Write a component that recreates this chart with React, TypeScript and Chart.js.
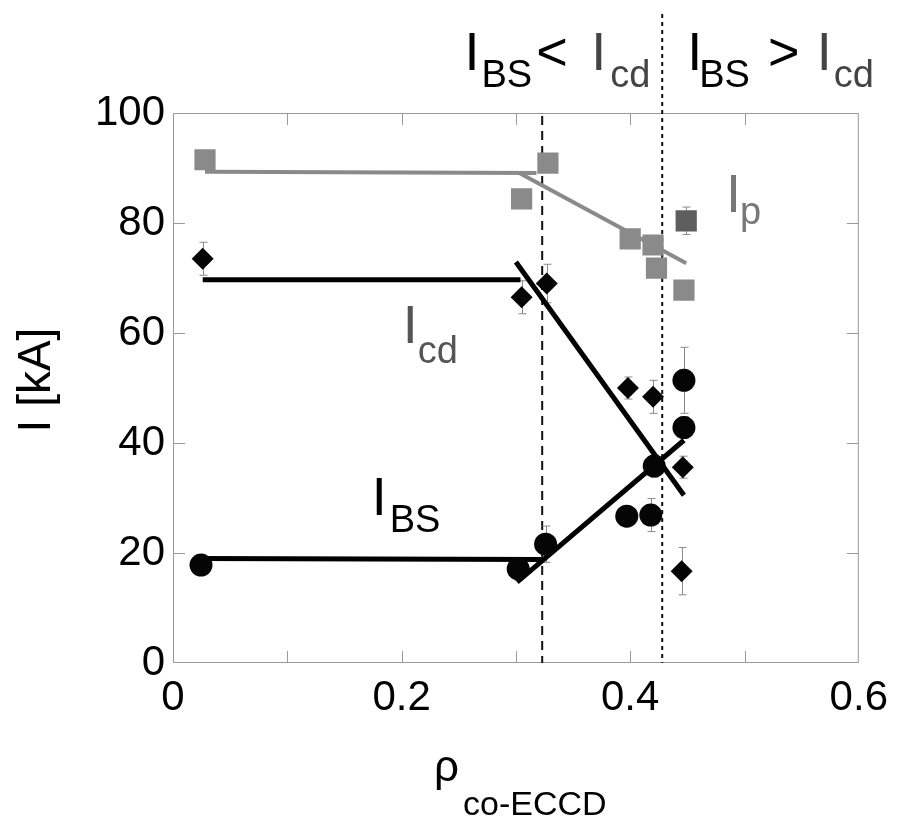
import React, { useEffect, useRef } from 'react';
import { Chart, registerables } from 'chart.js';

Chart.register(...registerables);

const FONT = '"Liberation Sans", Arial, Helvetica, sans-serif';

// tick labels
const xTickLabels = ['0', '0.2', '0.4', '0.6'];
const yTickLabels = ['0', '20', '40', '60', '80', '100'];
const xMinorTicks = [0.1, 0.2, 0.3, 0.4, 0.5];
const yMinorTicks = [20, 40, 60, 80];

// I_p (grey squares)
const ipX = [0.028, 0.305, 0.328, 0.4, 0.42, 0.423, 0.449, 0.447];
const ipY = [91.5, 84.4, 90.9, 77.1, 76.0, 71.8, 80.4, 67.8];
const ipErr = [1, 1, 1, 1, 1, 1, 2.5, 1.5];
const ipColors = ['#8a8a8a', '#8a8a8a', '#8a8a8a', '#8a8a8a', '#8a8a8a', '#8a8a8a', '#5e5e5e', '#8a8a8a'];

// I_cd (black diamonds)
const icdX = [0.026, 0.305, 0.327, 0.398, 0.42, 0.446, 0.445];
const icdY = [73.5, 66.5, 69.0, 50.0, 48.4, 35.6, 16.7];
const icdErr = [3, 3, 3.5, 2, 3, 2, 4.3];

// I_BS (black circles)
const ibsX = [0.0245, 0.302, 0.326, 0.397, 0.418, 0.421, 0.447, 0.447];
const ibsY = [17.8, 17.1, 21.6, 26.7, 26.9, 35.8, 42.8, 51.4];
const ibsErr = [1, 2, 3.3, 1, 3, 2, 2, 6];

// fit lines
const ipFlatX = [0.028, 0.318];
const ipFlatY = [89.3, 89.1];
const ipSlopeX = [0.303, 0.449];
const ipSlopeY = [89.1, 72.7];
const icdFlatX = [0.026, 0.304];
const icdFlatY = [69.7, 69.7];
const icdSlopeX = [0.3, 0.447];
const icdSlopeY = [72.9, 30.5];
const ibsFlatX = [0.0245, 0.322];
const ibsFlatY = [19.0, 18.8];
const ibsSlopeX = [0.301, 0.447];
const ibsSlopeY = [14.7, 40.5];

// boundaries
const dashedX = 0.323;
const dottedX = 0.428;
const dottedTopY = 118;

// in-plot labels: [x, y, main, sub, dx, dy, color]
const labelX = [0.4838, 0.2009, 0.1738];
const labelY = [82.0, 58.2, 26.9];
const labelMain = ['I', 'I', 'I'];
const labelSub = ['p', 'cd', 'BS'];
const labelDx = [-1, 0, 3];
const labelDy = [12, 20, 17];
const labelColor = ['#777777', '#555555', '#000000'];

// top region labels
const topX = [0.255, 0.3659, 0.4498, 0.5633];
const topSub = ['BS', 'cd', 'BS', 'cd'];
const topDx = [2, 4, -3, 2];
const topColor = ['#000000', '#444444', '#000000', '#444444'];
const topY = 107.8;
const relX = [0.3179, 0.5205];
const relText = ['<', '>'];

const toPts = (xs: number[], ys: number[]) => xs.map((x, i) => ({ x, y: ys[i] }));

function drawSub(ctx: CanvasRenderingContext2D, x: number, y: number, main: string, sub: string,
  mainSize: number, subSize: number, dx: number, dy: number, color: string) {
  ctx.fillStyle = color;
  ctx.textAlign = 'left';
  ctx.textBaseline = 'alphabetic';
  ctx.font = `${mainSize}px ${FONT}`;
  ctx.fillText(main, x, y);
  const w = ctx.measureText(main).width;
  ctx.font = `${subSize}px ${FONT}`;
  ctx.fillText(sub, x + w + dx, y + dy);
}

const overlay = {
  id: 'overlay',
  beforeDatasetsDraw(chart: any) {
    const { ctx, chartArea: a, scales } = chart;
    const xs = scales.x;
    const ys = scales.y;
    ctx.save();
    // frame
    ctx.strokeStyle = '#9a9a9a';
    ctx.lineWidth = 1;
    ctx.strokeRect(a.left + 0.5, a.top + 0.5, a.right - a.left - 1, a.bottom - a.top - 1);
    // inward ticks
    ctx.beginPath();
    xMinorTicks.forEach((v) => {
      const px = Math.round(xs.getPixelForValue(v)) + 0.5;
      ctx.moveTo(px, a.bottom);
      ctx.lineTo(px, a.bottom - 12);
      ctx.moveTo(px, a.top);
      ctx.lineTo(px, a.top + 12);
    });
    yMinorTicks.forEach((v) => {
      const py = Math.round(ys.getPixelForValue(v)) + 0.5;
      ctx.moveTo(a.left, py);
      ctx.lineTo(a.left + 12, py);
      ctx.moveTo(a.right, py);
      ctx.lineTo(a.right - 12, py);
    });
    ctx.stroke();

    // boundary lines
    ctx.strokeStyle = '#111111';
    ctx.lineWidth = 2;
    ctx.setLineDash([9, 6]);
    ctx.beginPath();
    const dxp = xs.getPixelForValue(dashedX);
    ctx.moveTo(dxp, a.top + 3);
    ctx.lineTo(dxp, a.bottom);
    ctx.stroke();
    ctx.setLineDash([4, 4]);
    ctx.beginPath();
    const dop = xs.getPixelForValue(dottedX);
    ctx.moveTo(dop, ys.getPixelForValue(dottedTopY));
    ctx.lineTo(dop, a.bottom);
    ctx.stroke();
    ctx.setLineDash([]);

    // error bars
    ctx.strokeStyle = '#8a8a8a';
    ctx.lineWidth = 1;
    const drawErr = (X: number[], Y: number[], E: number[]) => {
      X.forEach((xv, i) => {
        const px = Math.round(xs.getPixelForValue(xv)) + 0.5;
        const t = ys.getPixelForValue(Y[i] + E[i]);
        const b = ys.getPixelForValue(Y[i] - E[i]);
        ctx.beginPath();
        ctx.moveTo(px, t);
        ctx.lineTo(px, b);
        ctx.moveTo(px - 4, t);
        ctx.lineTo(px + 4, t);
        ctx.moveTo(px - 4, b);
        ctx.lineTo(px + 4, b);
        ctx.stroke();
      });
    };
    drawErr(ipX, ipY, ipErr);
    drawErr(icdX, icdY, icdErr);
    drawErr(ibsX, ibsY, ibsErr);
    ctx.restore();
  },
  afterDraw(chart: any) {
    const { ctx, chartArea: a, scales } = chart;
    const xs = scales.x;
    const ys = scales.y;
    ctx.save();
    // in-plot labels
    labelX.forEach((xv, i) => {
      drawSub(ctx, xs.getPixelForValue(xv), ys.getPixelForValue(labelY[i]), labelMain[i], labelSub[i],
        54, 38, labelDx[i], labelDy[i], labelColor[i]);
    });
    // top labels
    const ty = ys.getPixelForValue(topY);
    topX.forEach((xv, i) => {
      drawSub(ctx, xs.getPixelForValue(xv), ty, 'I', topSub[i], 54, 38, topDx[i], 17, topColor[i]);
    });
    ctx.fillStyle = '#000';
    ctx.font = `54px ${FONT}`;
    ctx.textAlign = 'left';
    ctx.textBaseline = 'alphabetic';
    relX.forEach((xv, i) => ctx.fillText(relText[i], xs.getPixelForValue(xv), ty));

    // y title
    ctx.save();
    ctx.translate(37, (a.top + a.bottom) / 2 - 8);
    ctx.rotate(-Math.PI / 2);
    ctx.font = `46px ${FONT}`;
    ctx.textAlign = 'center';
    ctx.textBaseline = 'middle';
    ctx.fillStyle = '#000';
    ctx.fillText('I [kA]', 0, 0);
    ctx.restore();

    // x title
    drawSub(ctx, 434, 781, 'ρ', 'co-ECCD', 44, 34, 4, 34, '#000');
    ctx.restore();
  },
};

export default function App() {
  const ref = useRef<HTMLCanvasElement>(null);
  useEffect(() => {
    if (!ref.current) return;
    const lineDs = (xs: number[], ys: number[], color: string, width: number) => ({
      type: 'line' as const,
      data: toPts(xs, ys),
      borderColor: color,
      borderWidth: width,
      pointRadius: 0,
      fill: false,
      showLine: true,
      order: 10,
    });
    const chart = new Chart(ref.current, {
      type: 'scatter',
      data: {
        datasets: [
          {
            label: 'I_BS',
            data: toPts(ibsX, ibsY),
            pointStyle: 'circle',
            pointRadius: 11.5,
            backgroundColor: '#050505',
            borderColor: '#000',
            borderWidth: 0,
            order: 1,
          },
          {
            label: 'I_cd',
            data: toPts(icdX, icdY),
            pointStyle: 'rectRot',
            pointRadius: 11,
            backgroundColor: '#050505',
            borderColor: '#000',
            borderWidth: 0,
            order: 2,
          },
          {
            label: 'I_p',
            data: toPts(ipX, ipY),
            pointStyle: 'rect',
            pointRadius: 15,
            backgroundColor: ipColors,
            borderColor: ipColors,
            borderWidth: 0,
            order: 3,
          },
          lineDs(icdFlatX, icdFlatY, '#000', 5),
          lineDs(icdSlopeX, icdSlopeY, '#000', 5),
          lineDs(ibsFlatX, ibsFlatY, '#000', 5),
          lineDs(ibsSlopeX, ibsSlopeY, '#000', 5),
          { ...lineDs(ipFlatX, ipFlatY, '#8a8a8a', 4), order: 11 },
          { ...lineDs(ipSlopeX, ipSlopeY, '#8a8a8a', 4), order: 11 },
        ] as any,
      },
      options: {
        animation: false,
        responsive: false,
        maintainAspectRatio: false,
        devicePixelRatio: 1,
        layout: { padding: { top: 113, right: 38, left: 0, bottom: 0 } },
        plugins: { legend: { display: false }, tooltip: { enabled: false } },
        scales: {
          x: {
            type: 'linear',
            min: 0,
            max: 0.6,
            grid: { display: false, drawTicks: false },
            border: { display: false },
            ticks: {
              stepSize: 0.2,
              padding: 10,
              color: '#000',
              maxRotation: 0,
              font: { family: FONT, size: 42 },
              callback: (v: any) => {
                const i = Math.round(Number(v) / 0.2);
                return xTickLabels[i] ?? '';
              },
            },
            afterFit: (s: any) => { s.height = 159; },
          },
          y: {
            type: 'linear',
            min: 0,
            max: 100,
            grid: { display: false, drawTicks: false },
            border: { display: false },
            ticks: {
              stepSize: 20,
              padding: 8,
              color: '#000',
              font: { family: FONT, size: 42 },
              callback: (v: any) => {
                const i = Math.round(Number(v) / 20);
                return yTickLabels[i] ?? '';
              },
            },
            afterFit: (s: any) => { s.width = 173; },
          },
        },
      },
      plugins: [overlay],
    });
    return () => chart.destroy();
  }, []);
  return (
    <div style={{ position: 'fixed', left: 0, top: 0, width: 898, height: 822, background: '#fff' }}>
      <canvas ref={ref} width={898} height={822} />
    </div>
  );
}
